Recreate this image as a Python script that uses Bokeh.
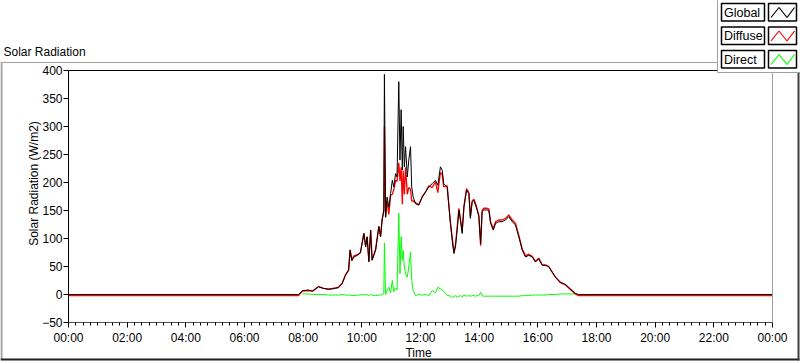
import numpy as np
from bokeh.plotting import figure
from bokeh.models import Range1d, FixedTicker, Label, BoxAnnotation, PolyAnnotation
from bokeh.embed import file_html
from bokeh.resources import INLINE

nan = np.nan

# ---------------- data ----------------
hours = [
    0.00, 7.84, 7.98, 8.18, 8.32, 8.52, 8.69, 8.86, 9.00, 9.10,
    9.20, 9.33, 9.44, 9.55, 9.60, 9.66, 9.73, 9.85, 9.95, 10.07,
    10.13, 10.18, 10.24, 10.30, 10.35, 10.47, 10.58, 10.64, 10.69, 10.75,
    10.77, 10.81, 10.86, 10.92, 10.98, 11.04, 11.09, 11.15, 11.20, 11.26,
    11.30, 11.34, 11.38, 11.41, 11.45, 11.49, 11.55, 11.60, 11.66, 11.70,
    11.75, 11.83, 11.94, 12.06, 12.17, 12.28, 12.40, 12.51, 12.59, 12.68,
    12.74, 12.79, 12.91, 12.97, 13.02, 13.08, 13.14, 13.19, 13.25, 13.31,
    13.36, 13.42, 13.48, 13.57, 13.65, 13.70, 13.76, 13.82, 13.88, 13.93,
    13.99, 14.05, 14.10, 14.16, 14.27, 14.33, 14.39, 14.48, 14.56, 14.67,
    14.78, 14.90, 15.01, 15.13, 15.24, 15.35, 15.47, 15.58, 15.69, 15.81,
    15.92, 16.03, 16.15, 16.26, 16.37, 16.49, 16.60, 16.77, 16.94, 17.11,
    17.28, 17.39, 24.00,
]

global_rad = [
    0, 0, 7, 8, 6, 14, 11, 9, 10, 11,
    12, 20, 34, 43, 79, 60, 67, 70, 74, 109,
    85, 103, 58, 115, 61, 79, 121, 103, 133, 151,
    393, 138, 174, 156, 180, 204, 192, 216, 210, 380,
    240, 330, 222, 300, 228, 264, 210, 240, 264, 192,
    174, 162, 160, 174, 183, 192, 198, 204, 195, 228,
    222, 198, 192, 156, 127, 97, 73, 85, 115, 151,
    133, 109, 156, 186, 180, 136, 165, 168, 159, 151,
    139, 91, 148, 151, 151, 150, 127, 115, 127, 130,
    130, 133, 139, 130, 124, 103, 79, 67, 70, 67,
    58, 64, 52, 52, 50, 40, 31, 22, 18, 10,
    2, 0, 0,
]

diffuse_rad = [
    -2, -2, 6, 7, 6, 14, 11, 10, 11, 12,
    13, 20, 35, 44, 80, 62, 69, 71, 75, 109,
    86, 103, 60, 115, 62, 81, 122, 104, 133, 149,
    300, 138, 167, 143, 177, 179, 187, 204, 202, 235,
    203, 227, 161, 221, 179, 227, 179, 191, 188, 167,
    167, 164, 160, 175, 183, 194, 191, 201, 182, 218,
    214, 192, 194, 158, 130, 102, 77, 87, 120, 154,
    135, 113, 157, 189, 182, 139, 167, 170, 162, 153,
    141, 87, 150, 154, 154, 153, 130, 118, 130, 133,
    133, 136, 142, 133, 127, 106, 81, 69, 72, 68,
    59, 65, 53, 53, 50, 40, 31, 21, 17, 9,
    1, -2, -2,
]

direct_rad = [
    nan, nan, 1, 1, 0, 0, 0, -1, -1, -1,
    -1, 0, -1, -1, -1, -2, -2, -1, -1, 0,
    -1, 0, -2, 0, -1, -2, -1, -1, 0, 2,
    92, 0, 7, 13, 3, 25, 5, 12, 8, 145,
    37, 103, 61, 79, 49, 37, 31, 49, 76, 25,
    7, -2, 0, -1, 0, -2, 7, 3, 13, 10,
    8, 6, -2, -2, -3, -5, -4, -2, -5, -3,
    -2, -4, -1, -3, -2, -3, -2, -2, -3, -2,
    -2, 4, -2, -3, -3, -3, -3, -3, -3, -3,
    -3, -3, -3, -3, -3, -3, -2, -2, -2, -1,
    -1, -1, -1, -1, 0, 0, 0, 1, 1, 1,
    1, nan, nan,
]

x_ticks = [0, 2, 4, 6, 8, 10, 12, 14, 16, 18, 20, 22, 24]
x_tick_labels = ["00:00", "02:00", "04:00", "06:00", "08:00", "10:00", "12:00",
                 "14:00", "16:00", "18:00", "20:00", "22:00", "00:00"]
y_ticks = [-50, 0, 50, 100, 150, 200, 250, 300, 350, 400]
X_MIN, X_MAX = 0, 24
Y_MIN, Y_MAX = -50, 400

series_names = ["Global", "Diffuse", "Direct"]
series_colors = ["#000000", "#ff0000", "#00ff00"]

# ---------------- layout (pixels) ----------------
W, H = 800, 361
FL, FR, FT, FB = 68, 772, 70, 322      # plot area edges on the canvas
FONT = "Liberation Sans"
PXH = (FR - FL) / (X_MAX - X_MIN)      # px per hour
PXV = (FB - FT) / (Y_MAX - Y_MIN)      # px per W/m2
x0 = X_MIN - FL / PXH
x1 = X_MAX + (W - FR) / PXH
y0 = Y_MIN - (H - FB) / PXV
y1 = Y_MAX + FT / PXV

p = figure(width=W, height=H, output_backend="svg", toolbar_location=None,
           x_range=Range1d(x0, x1), y_range=Range1d(y0, y1),
           min_border=0, min_border_left=0, min_border_right=0,
           min_border_top=0, min_border_bottom=0,
           background_fill_color="white", border_fill_color="white")
p.title.visible = False
p.xgrid.visible = False
p.ygrid.visible = False
p.outline_line_color = None

xa = p.xaxis[0]
ya = p.yaxis[0]
xa.fixed_location = Y_MIN
ya.fixed_location = X_MIN
xa.bounds = (X_MIN, X_MAX)
ya.bounds = (Y_MIN, Y_MAX)
xa.ticker = FixedTicker(ticks=x_ticks, minor_ticks=list(np.arange(0, 24.001, 0.25)))
xa.major_label_overrides = {t: s for t, s in zip(x_ticks, x_tick_labels)}
ya.ticker = FixedTicker(ticks=y_ticks, minor_ticks=[])

for ax in (xa, ya):
    ax.axis_line_color = "black"
    ax.major_tick_line_color = "black"
    ax.major_tick_in = 0
    ax.major_tick_out = 5
    ax.major_label_text_font = FONT
    ax.major_label_text_font_size = "12px"
    ax.major_label_text_color = "#000000"
xa.axis_line_color = "#505050"
xa.minor_tick_in = 0
xa.minor_tick_out = 3
xa.minor_tick_line_color = "black"
ya.minor_tick_line_color = None
ya.major_label_standoff = 1
xa.major_label_standoff = 3

# ---------------- series ----------------
p.line(hours, direct_rad, line_color=series_colors[2], line_width=1)
p.line(hours, diffuse_rad, line_color=series_colors[1], line_width=1.3)
p.line(hours, global_rad, line_color=series_colors[0], line_width=1)


# ---------------- helpers (canvas px -> data units) ----------------
def dx(cx):
    return x0 + cx / PXH


def dy(cy):
    return y1 - cy / PXV


def cbox(l, t, r, b, fill, line=None, lw=1, level="annotation"):
    p.add_layout(BoxAnnotation(left=dx(l), right=dx(r), top=dy(t), bottom=dy(b),
                               fill_color=fill if fill else "white",
                               fill_alpha=1.0 if fill else 0.0,
                               line_color=line, line_alpha=1.0, line_width=lw,
                               level=level))


def ctext(x, y, txt, align="left", baseline="middle", angle=0.0, size="12px"):
    p.add_layout(Label(x=dx(x), y=dy(y), text=txt, text_font=FONT,
                       text_font_size=size, text_color="#000000",
                       text_align=align, text_baseline=baseline,
                       angle=angle, level="overlay"))


# plot area edges: top black, right grey
cbox(FL, FT - 0.5, FR, FT + 0.5, "#000000")
cbox(FR - 0.5, FT, FR + 0.5, FB, "#a0a0a0")

# outer panel edges
cbox(0, 61.5, 717, 62.5, "#a0a0a0")
cbox(0, 62, 2, 359, "#a0a0a0")
cbox(0, 358, 799, 360, "#202020")
cbox(797, 72, 799, 360, "#404040")

# titles
ctext(3, 51, "Solar Radiation")
ctext(33, 183, "Solar Radiation (W/m2)", align="center", angle=np.pi / 2)
ctext(418, 352, "Time", align="center")

# legend panel
cbox(717, -2, 802, 72, "#ffffff", "#a0a0a0", 1, level="overlay")
row_tops = [3, 26.5, 50]
for name, col, top in zip(series_names, series_colors, row_tops):
    cbox(721, top, 764, top + 17.5, "#ffffff", "#000000", 1.5, level="overlay")
    cbox(768, top, 796, top + 17.5, "#ffffff", "#000000", 1.5, level="overlay")
    ctext(723.5, top + 9, name, size="12.5px")
    zx = [770.5, 778.5, 786.5, 794]
    zy = [top + 14, top + 4, top + 14, top + 4]
    for i in range(3):
        p.add_layout(PolyAnnotation(xs=[dx(zx[i]), dx(zx[i + 1])],
                                    ys=[dy(zy[i]), dy(zy[i + 1])],
                                    fill_alpha=0, line_color=col, line_alpha=1.0,
                                    line_width=1.2, level="overlay"))

open("out.html", "w").write(file_html(p, INLINE))
